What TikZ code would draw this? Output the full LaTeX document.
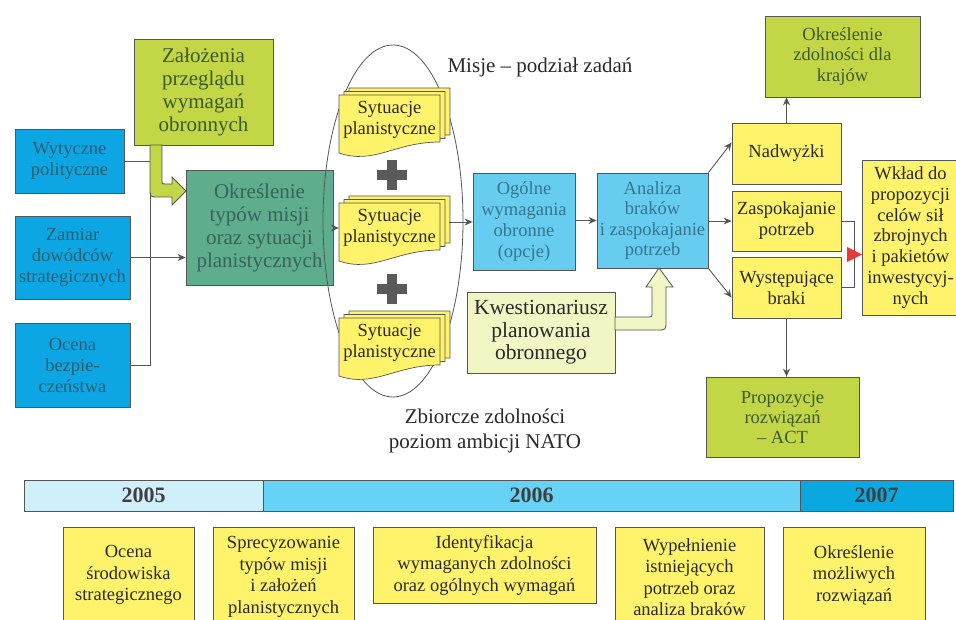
\documentclass[tikz,border=0pt]{standalone}
\usepackage{fontspec}
\setmainfont{Liberation Serif}
\usetikzlibrary{arrows.meta}
\definecolor{lg}{HTML}{555555}
\definecolor{cblue}{HTML}{0BA6E3}
\definecolor{cteal}{HTML}{5EAE8E}
\definecolor{cgreen}{HTML}{C2D646}
\definecolor{clblue}{HTML}{66CDF0}
\definecolor{cyel}{HTML}{FFF36B}
\definecolor{ckw}{HTML}{F1F6C4}
\definecolor{cplus}{HTML}{5A5A5A}
\definecolor{tblue}{HTML}{285F70}
\definecolor{tteal}{HTML}{38625A}
\definecolor{tgreen}{HTML}{3C5A2C}
\definecolor{tlb}{HTML}{357590}
\definecolor{tdark}{HTML}{2A2A2A}
\definecolor{cy05}{HTML}{CFEFFB}
\definecolor{cy06}{HTML}{66D2F5}
\definecolor{cy07}{HTML}{0AA8E0}
\definecolor{cred}{HTML}{E83838}
\newcommand\mydocstack[2]{%
  \foreach \dx/\dy in {10/-7,5/-3.5,0/0} {
    \filldraw[fill=cyel, draw=lg, line width=0.7pt] ({#1+\dx},{#2+\dy}) -- ++(101,0) -- ++(0,47)
      .. controls +(-45,0) and +(35,12) .. ({#1+\dx},{#2+\dy+58}) -- cycle;
  }%
}
\begin{document}
\begin{tikzpicture}[x=1pt,y=-1pt,
  bx/.style={draw=lg, line width=0.8pt, align=center, inner sep=1pt},
  fA/.style={font=\fontsize{18.5}{21}\selectfont},
  fB/.style={font=\fontsize{21}{23}\selectfont},
  fY/.style={font=\fontsize{22}{24}\selectfont\bfseries},
  ln/.style={draw=lg, line width=0.9pt},
  conn/.style={draw=lg, line width=0.9pt, -{Stealth[length=8pt,width=7pt]}},
  fat/.style={draw=lg, line width=0.8pt}]
\clip (0,0) rectangle (956,620);
\fill[white] (0,0) rectangle (956,620);

% left column
\node[bx, fA, fill=cblue, text=tblue, minimum width=109pt, minimum height=64pt] (wyt) at (69.5,161) {Wytyczne\\polityczne};
\node[bx, fA, fill=cblue, text=tblue, minimum width=115pt, minimum height=83pt] (zam) at (72.5,257.5) {Zamiar\\dowódców\\strategicznych};
\node[bx, fA, fill=cblue, text=tblue, minimum width=115pt, minimum height=84pt] (oce) at (72.5,365) {Ocena\\bezpie-\\czeństwa};

\node[bx, fB, fill=cgreen, text=tgreen, minimum width=139pt, minimum height=106pt] (zal) at (203.5,92) {Założenia\\przeglądu\\wymagań\\obronnych};
\node[bx, fB, fill=cteal, text=tteal, minimum width=147pt, minimum height=115pt] (okr) at (259.5,227.5) {Określenie\\typów misji\\oraz sytuacji\\planistycznych};

\coordinate (vx) at (150,0);
\draw[ln] (wyt.east) -| (vx |- oce.east) -- (oce.east);
\draw[conn] (zam.east) -- (zam.east -| okr.west);

% fat arrow from Zalozenia
\filldraw[fat, fill=cgreen] (150,145) -- (150,188) .. controls (150,197) .. (159,197) -- (172,197) -- (172,205)
  -- (186,191) -- (172,177) -- (172,184) -- (165,184) .. controls (162,184) .. (162,181) -- (162,145) -- cycle;

% ellipse with planning situations
\draw[lg, line width=0.8pt] (393,221) ellipse [x radius=70pt, y radius=176pt];
\mydocstack{339}{95}
\mydocstack{339}{203}
\mydocstack{339}{318}
\node[fA, text=tdark, align=center, minimum width=101pt, minimum height=44pt, inner sep=0pt] (s1) at (389.5,120) {Sytuacje\\planistyczne};
\node[fA, text=tdark, align=center, minimum width=101pt, minimum height=44pt, inner sep=0pt] (s2) at (389.5,228) {Sytuacje\\planistyczne};
\node[fA, text=tdark, align=center, minimum width=101pt, minimum height=44pt, inner sep=0pt] (s3) at (389.5,343) {Sytuacje\\planistyczne};
\foreach \py in {175,289} {
  \fill[cplus] (392,\py) +(-15,-5) rectangle +(15,5);
  \fill[cplus] (392,\py) +(-5,-15) rectangle +(5,15);
}
\draw[conn] (okr.east |- s2.west) -- (s2.west);

\node[text=tdark, font=\fontsize{21}{24}\selectfont] (misje) at (540,67) {Misje – podział zadań};
\node[text=tdark, align=center, font=\fontsize{21}{25}\selectfont] (zbior) at (485,431) {Zbiorcze zdolności\\poziom ambicji NATO};

% middle
\node[bx, fA, fill=clblue, text=tlb, minimum width=102pt, minimum height=97pt] (ogo) at (524,221.5) {Ogólne\\wymagania\\obronne\\(opcje)};
\node[bx, fA, fill=clblue, text=tlb, minimum width=111pt, minimum height=95pt, font=\fontsize{18.5}{20.5}\selectfont] (ana) at (652.5,220.5) {Analiza\\braków\\i zaspokajanie\\potrzeb};
\node[bx, fB, fill=ckw, text=tdark, minimum width=148pt, minimum height=81pt, font=\fontsize{21.5}{22.5}\selectfont] (kwe) at (541,332.5) {Kwestionariusz\\planowania\\obronnego};
\coordinate (s2r) at (449,222);
\draw[conn] (s2r) -- (s2r -| ogo.west);
\draw[conn] (ogo.east |- ana.west) -- (ana.west);

% fat arrow from Kwestionariusz
\filldraw[fat, fill=ckw] (615,317) -- (649,317) .. controls (652,317) .. (652,314) -- (652,287) -- (646,287)
  -- (659,268) -- (673,287) -- (666,287) -- (666,321) .. controls (666,330) .. (657,330) -- (615,330) -- cycle;

% right part
\node[bx, fA, fill=cgreen, text=tgreen, minimum width=155pt, minimum height=81pt, font=\fontsize{18.5}{20.5}\selectfont] (okz) at (842.5,56.5) {Określenie\\zdolności dla\\krajów};
\node[bx, fA, fill=cyel, text=tdark, minimum width=109pt, minimum height=61pt] (nad) at (786.5,153.5) {Nadwyżki};
\node[bx, fA, fill=cyel, text=tdark, minimum width=109pt, minimum height=60pt] (zas) at (786.5,221) {Zaspokajanie\\potrzeb};
\node[bx, fA, fill=cyel, text=tdark, minimum width=109pt, minimum height=61pt] (wys) at (786.5,287.5) {Występujące\\braki};
\node[bx, fA, fill=cyel, text=tdark, minimum width=97pt, minimum height=155pt, font=\fontsize{18.5}{20.7}\selectfont] (wkl) at (910.5,237.5) {Wkład do\\propozycji\\celów sił\\zbrojnych\\i pakietów\\inwestycyj-\\nych};
\node[bx, fA, fill=cgreen, text=tgreen, minimum width=153pt, minimum height=80pt, font=\fontsize{18.5}{20}\selectfont] (pro) at (782.5,417) {Propozycje\\rozwiązań\\– ACT};

\draw[conn] (ana.north east) -- ([yshift=11pt]nad.west);
\draw[conn] (ana.east |- zas.west) -- (zas.west);
\draw[conn] (ana.south east) -- ([yshift=-10pt]wys.west);
\draw[conn] (nad.north) -- (nad.north |- okz.south);
\draw[conn] (wys.south) -- (wys.south |- pro.north);
\draw[ln] (zas.east) -- ++(13,0) coordinate (bk) |- (wys.east);
\fill[cred] (847,247) -- (862,254.5) -- (847,262) -- cycle;

% timeline
\node[bx, fY, fill=cy05, text=tdark!90, minimum width=239pt, minimum height=31pt] (y05) at (143.5,495.5) {2005};
\node[bx, fY, fill=cy06, text=tdark!90, minimum width=537pt, minimum height=31pt] (y06) at (531.5,495.5) {2006};
\node[bx, fY, fill=cy07, text=tdark!90, minimum width=153pt, minimum height=31pt] (y07) at (876.5,495.5) {2007};

\node[bx, fA, fill=cyel, text=tdark, anchor=north, minimum width=131pt, minimum height=95pt, font=\fontsize{18.5}{21.5}\selectfont] (b1) at (128.5,527) {Ocena\\środowiska\\strategicznego};
\node[bx, fA, fill=cyel, text=tdark, anchor=north, minimum width=141pt, minimum height=99pt, font=\fontsize{18.5}{21.5}\selectfont] (b2) at (283.5,527) {Sprecyzowanie\\typów misji\\i założeń\\planistycznych};
\node[bx, fA, fill=cyel, text=tdark, anchor=north, minimum width=223pt, minimum height=76pt, font=\fontsize{18.5}{21.5}\selectfont] (b3) at (484.5,527) {Identyfikacja\\wymaganych zdolności\\oraz ogólnych wymagań};
\node[bx, fA, fill=cyel, text=tdark, anchor=north, minimum width=149pt, minimum height=100pt, font=\fontsize{18.5}{21.5}\selectfont] (b4) at (689.5,527) {Wypełnienie\\istniejących\\potrzeb oraz\\analiza braków};
\node[bx, fA, fill=cyel, text=tdark, anchor=north, minimum width=142pt, minimum height=95pt, font=\fontsize{18.5}{21.5}\selectfont] (b5) at (854,527) {Określenie\\możliwych\\rozwiązań};
\end{tikzpicture}
\end{document}
